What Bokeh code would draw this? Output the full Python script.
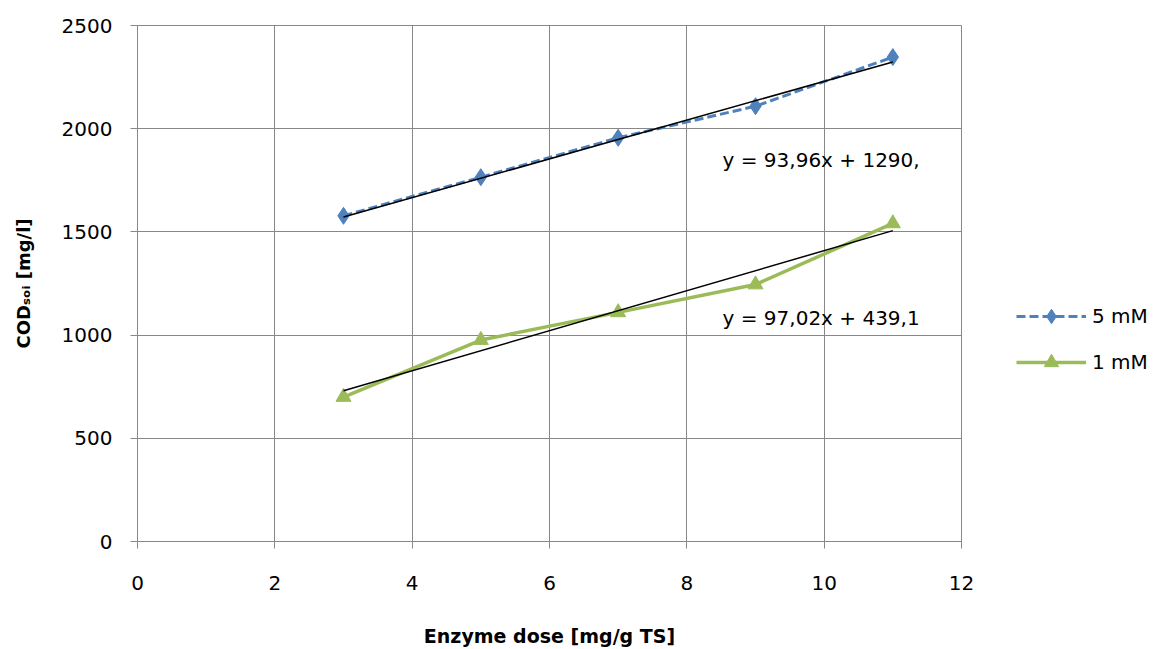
from bokeh.plotting import figure
from bokeh.models import Range1d, FixedTicker, Label, Legend, LegendItem
from bokeh.embed import file_html
from bokeh.resources import INLINE

# ---- data ----
dose = [3, 5, 7, 9, 11]
cod_5mM = [1578, 1765, 1956, 2109, 2347]
cod_1mM = [700, 976, 1110, 1245, 1541]
series_names = ["5 mM", "1 mM"]
fit_5mM = (93.96, 1290.0)
fit_1mM = (97.02, 439.1)
eq_5mM = "y = 93,96x + 1290,"
eq_1mM = "y = 97,02x + 439,1"
x_ticks = [0, 2, 4, 6, 8, 10, 12]
y_ticks = [0, 500, 1000, 1500, 2000, 2500]
x_title = "Enzyme dose [mg/g TS]"
y_title = "COD\u209b\u2092\u1d62 [mg/l]"

BLUE = "#4F81BD"
GREEN = "#9BBB59"
GRID = "#888888"
FONT = "DejaVu Sans"

p = figure(frame_width=824, frame_height=516, output_backend="svg", toolbar_location=None,
           x_range=Range1d(0, 12), y_range=Range1d(0, 2500),
           min_border_left=137, min_border_right=0, min_border_top=25,
           min_border_bottom=108)
p.outline_line_color = GRID
p.outline_line_width = 1
p.background_fill_color = "white"
p.border_fill_color = "white"

for ax in (p.xaxis, p.yaxis):
    ax.axis_line_color = GRID
    ax.major_tick_line_color = GRID
    ax.major_tick_in = 0
    ax.major_tick_out = 7
    ax.minor_tick_line_color = None
    ax.major_label_text_font = FONT
    ax.major_label_text_font_size = "20px"
    ax.major_label_text_color = "black"
    ax.axis_label_text_font = FONT
    ax.axis_label_text_font_style = "bold"
    ax.axis_label_text_color = "black"

p.xaxis.ticker = FixedTicker(ticks=x_ticks)
p.yaxis.ticker = FixedTicker(ticks=y_ticks)
p.xaxis.major_label_standoff = 27
p.yaxis.major_label_standoff = 18
p.xaxis.axis_label = x_title
p.xaxis.axis_label_text_font_size = "19px"
p.xaxis.axis_label_standoff = 32
p.yaxis.axis_label = y_title
p.yaxis.axis_label_text_font_size = "18px"
p.yaxis.axis_label_standoff = 25

p.xgrid.grid_line_color = GRID
p.ygrid.grid_line_color = GRID
p.xgrid.ticker = FixedTicker(ticks=x_ticks)
p.ygrid.ticker = FixedTicker(ticks=y_ticks)

# series
l5 = p.line(dose, cod_5mM, line_color=BLUE, line_width=3, line_dash="9 4")
m5 = p.scatter(dose, cod_5mM, marker="diamond", size=17, fill_color=BLUE, line_color=BLUE)
l1 = p.line(dose, cod_1mM, line_color=GREEN, line_width=3.5)
m1 = p.scatter(dose, cod_1mM, marker="triangle", size=15, fill_color=GREEN, line_color=GREEN)

# trend lines
tx = [min(dose), max(dose)]
p.line(tx, [fit_5mM[0] * x + fit_5mM[1] for x in tx], line_color="black", line_width=1.5)
p.line(tx, [fit_1mM[0] * x + fit_1mM[1] for x in tx], line_color="black", line_width=1.5)

# equations
p.add_layout(Label(x=8.52, y=1847, text=eq_5mM, text_font=FONT, text_font_size="20px",
                   text_baseline="middle", text_align="left", text_color="black"))
p.add_layout(Label(x=8.52, y=1085, text=eq_1mM, text_font=FONT, text_font_size="20px",
                   text_baseline="middle", text_align="left", text_color="black"))

legend = Legend(items=[LegendItem(label=series_names[0], renderers=[l5, m5]),
                       LegendItem(label=series_names[1], renderers=[l1, m1])],
                location=(55, 161), orientation="vertical",
                glyph_width=70, glyph_height=36, label_height=36, label_standoff=6,
                spacing=10, padding=0, margin=0,
                label_text_font=FONT, label_text_font_size="20px",
                label_text_color="black",
                border_line_color=None, background_fill_alpha=0)
p.add_layout(legend, "right")

open("out.html", "w").write(file_html(p, INLINE))
